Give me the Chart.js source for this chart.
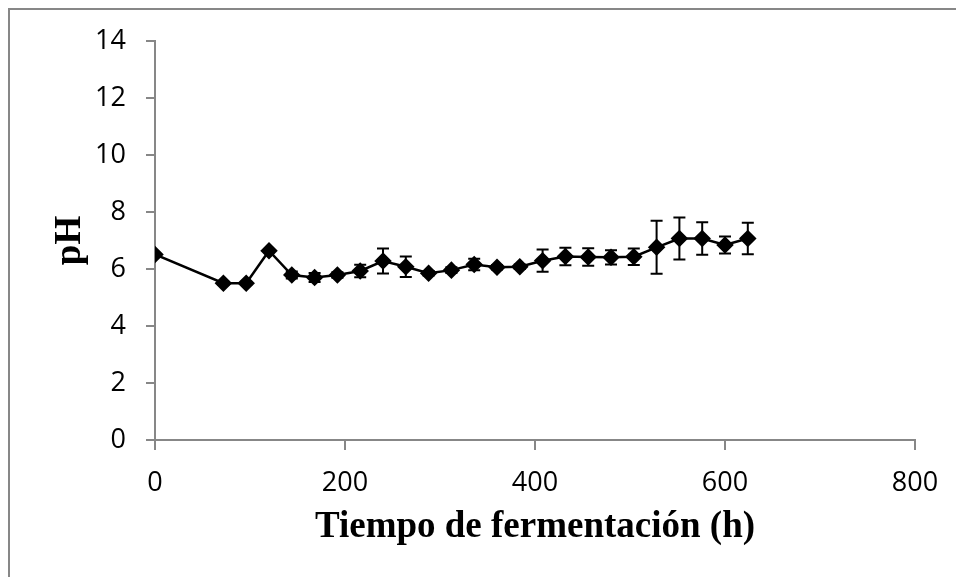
<!DOCTYPE html>
<html>
<head>
<meta charset="utf-8">
<script src="https://cdn.jsdelivr.net/npm/chart.js@4/dist/chart.umd.min.js"></script>
<style>
  html, body { margin: 0; padding: 0; background: #fff; }
  #wrap { position: relative; width: 956px; height: 577px; overflow: hidden; }
  #frame { position: absolute; left: 8px; top: 8px; width: 1000px; height: 1000px;
           border-left: 2px solid #878787; border-top: 2px solid #878787; box-sizing: border-box; }
  canvas { position: absolute; left: 0; top: 0; }
</style>
</head>
<body>
<div id="wrap">
  <div id="frame"></div>
  <canvas id="c" width="956" height="577"></canvas>
</div>
<script>
// Data
const timeHours = [0, 72, 96, 120, 144, 168, 192, 216, 240, 264, 288, 312, 336, 360, 384, 408, 432, 456, 480, 504, 528, 552, 576, 600, 624];
const phValues  = [6.51, 5.50, 5.50, 6.64, 5.79, 5.70, 5.79, 5.93, 6.28, 6.08, 5.85, 5.96, 6.16, 6.06, 6.08, 6.29, 6.44, 6.42, 6.41, 6.43, 6.76, 7.07, 7.07, 6.84, 7.07];
const phErrors  = [0, 0.05, 0.05, 0.05, 0.12, 0.16, 0.10, 0.22, 0.44, 0.36, 0.08, 0.10, 0.20, 0.08, 0.08, 0.39, 0.31, 0.31, 0.25, 0.29, 0.93, 0.74, 0.57, 0.30, 0.55];
const xTicks = [0, 200, 400, 600, 800];
const yTicks = [0, 2, 4, 6, 8, 10, 12, 14];
const xTitle = 'Tiempo de fermentación (h)';
const yTitle = 'pH';

const points = timeHours.map((t, i) => ({ x: t, y: phValues[i] }));

const errorBarPlugin = {
  id: 'errorBars',
  afterDatasetsDraw(chart) {
    const ctx = chart.ctx;
    const xs = chart.scales.x, ys = chart.scales.y;
    ctx.save();
    ctx.strokeStyle = '#000';
    ctx.lineWidth = 2;
    timeHours.forEach((t, i) => {
      const e = phErrors[i];
      if (!e) return;
      const px = xs.getPixelForValue(t);
      const top = ys.getPixelForValue(phValues[i] + e);
      const bot = ys.getPixelForValue(phValues[i] - e);
      ctx.beginPath();
      ctx.moveTo(px, top); ctx.lineTo(px, bot);
      ctx.moveTo(px - 6, top); ctx.lineTo(px + 6, top);
      ctx.moveTo(px - 6, bot); ctx.lineTo(px + 6, bot);
      ctx.stroke();
    });
    ctx.restore();
  }
};

const tickFont = { family: '"Open Sans", sans-serif', size: 27 };
const axisGray = '#878787';

new Chart(document.getElementById('c'), {
  type: 'scatter',
  data: {
    datasets: [{
      data: points,
      showLine: true,
      borderColor: '#000',
      borderWidth: 2.5,
      backgroundColor: '#000',
      pointStyle: 'rectRot',
      pointRadius: 7,
      pointHoverRadius: 7,
      tension: 0
    }]
  },
  options: {
    responsive: false,
    animation: false,
    events: [],
    layout: { padding: { top: 41, right: 41, left: 0, bottom: 0 } },
    plugins: { legend: { display: false }, tooltip: { enabled: false } },
    scales: {
      x: {
        type: 'linear',
        min: 0, max: 800,
        afterBuildTicks(s) { s.ticks = xTicks.map(v => ({ value: v })); },
        afterFit(s) { s.height = 137; },
        grid: { drawOnChartArea: false, drawTicks: true, tickLength: 10, color: axisGray, lineWidth: 2 },
        border: { display: true, color: axisGray, width: 2 },
        ticks: { color: '#000', font: tickFont, padding: 17, maxRotation: 0 },
        title: {
          display: true, text: xTitle, color: '#000',
          font: { family: '"Liberation Serif", "Times New Roman", serif', size: 37, weight: 'bold' },
          padding: { top: 0, bottom: 27 }
        }
      },
      y: {
        type: 'linear',
        min: 0, max: 14,
        afterBuildTicks(s) { s.ticks = yTicks.map(v => ({ value: v })); },
        afterFit(s) { s.width = 155; },
        grid: { drawOnChartArea: false, drawTicks: true, tickLength: 9, color: axisGray, lineWidth: 2 },
        border: { display: true, color: axisGray, width: 2 },
        ticks: { color: '#000', font: tickFont, padding: 20 },
        title: {
          display: true, text: yTitle, color: '#000',
          font: { family: '"Liberation Serif", "Times New Roman", serif', size: 37, weight: 'bold' },
          padding: { top: 48, bottom: 0 }
        }
      }
    }
  },
  plugins: [errorBarPlugin]
});
</script>
</body>
</html>
